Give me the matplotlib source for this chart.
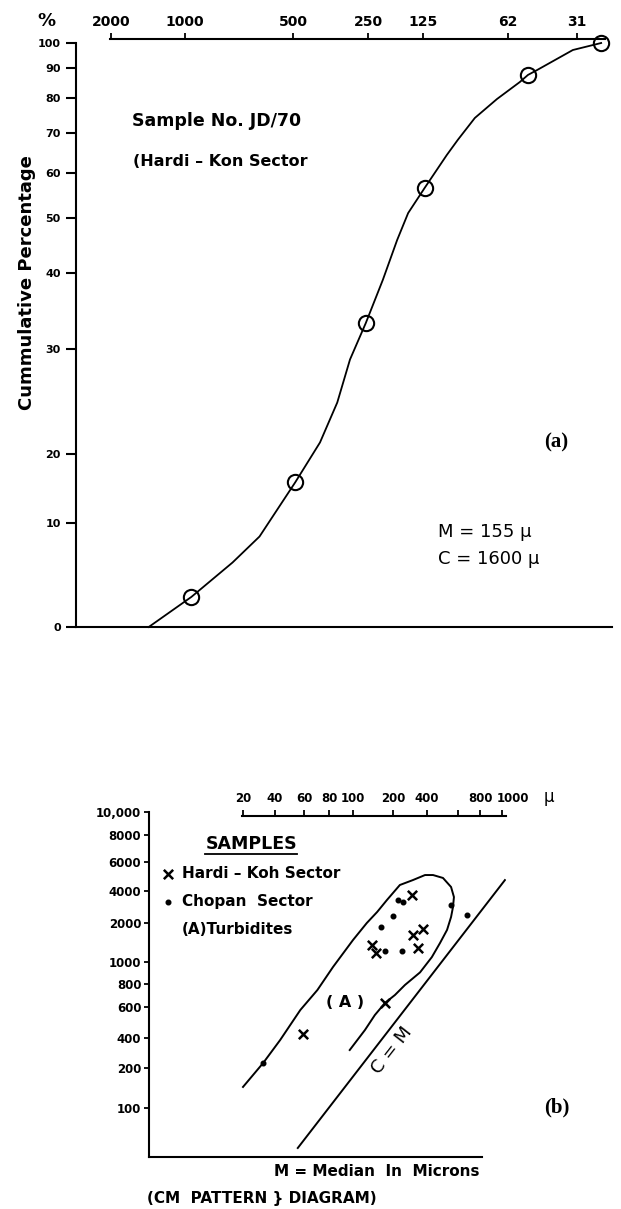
import numpy as np
import matplotlib
matplotlib.use("Agg")
import matplotlib.pyplot as plt
from matplotlib.lines import Line2D
from matplotlib.transforms import IdentityTransform

W, H = 621, 1209

# ---------------- panel (a): cumulative curve, sample JD/70 ----------------
phi_ticks = [-1, 0, 1, 2, 3, 4, 5]
size_labels = ["2000", "1000", "500", "250", "125", "62", "31"]
pct_ticks = [0, 10, 20, 30, 40, 50, 60, 70, 80, 90, 100]

sample_phi = [0.06, 1.03, 1.97, 3.02, 4.29, 5.35]
sample_pct = [2.9, 15.9, 33.4, 56.7, 87.7, 100.0]

# hand drawn curve
curve_phi = [-0.49, 0.06, 0.44, 0.69, 1.03, 1.36, 1.59, 1.76, 1.97, 2.27, 2.53,
             2.73, 3.02, 3.28, 3.41, 3.61, 3.87, 4.17, 4.29, 4.42, 4.94, 5.35]
curve_pct = [0.0, 2.9, 6.2, 8.7, 15.9, 21.1, 24.9, 29.0, 33.4, 39.1, 46.0,
             51.1, 56.7, 64.5, 68.3, 74.3, 79.7, 85.3, 87.7, 89.3, 97.2, 100.0]

# ---------------- panel (b): CM pattern ----------------
m_ticks = [20, 40, 60, 80, 100, 200, 400, 600, 800, 1000]
m_labels = ["20", "40", "60", "80", "100", "200", "400", "", "800", ""]
m_last = "1000"   # lettered to the right of its tick on the sheet
c_ticks = [100, 200, 400, 600, 800, 1000, 2000, 4000, 6000, 8000, 10000]
c_labels = ["100", "200", "400", "600", "800", "1000", "2000", "4000",
            "6000", "8000", "10,000"]

hardi_m = [59, 139, 149, 174, 301, 369, 333, 295]
hardi_c = [421, 1353, 1174, 631, 1616, 1798, 1282, 3668]
chopan_m = [31, 200, 162, 174, 240, 675, 548, 221, 245]
chopan_c = [225, 2328, 1862, 1216, 1216, 2378, 2953, 3292, 3152]

envelope_m = [20, 31, 43, 57, 70, 83, 100, 127, 152, 180, 230, 300, 384, 433,
              493, 548, 569, 562, 548, 520, 474, 426, 347, 255, 208, 174, 146,
              123, 97]
envelope_c = [144, 225, 382, 577, 742, 950, 1478, 2000, 2540, 3290, 4350, 4660,
              5000, 5000, 4800, 4230, 3510, 2830, 2280, 1770, 1400, 1090, 900,
              790, 697, 631, 540, 444, 303]

cm_m = [55, 1030]
cm_c = [50, 4660]

# where the hand ruled ticks sit on the sheet (px), used to build the scales
phi_px = [111, 185, 293, 368, 423, 508, 577]
pct_px = [627, 523, 454, 349, 273, 218, 173, 133, 98, 68, 43]
m_px = [243, 275, 304, 329, 353, 393, 427, 458, 480, 502]
c_px = [1108, 1068, 1038, 1007, 984, 962, 923, 891, 862, 835, 812]


def extrap(x, xp, fp):
    x = np.asarray(x, float)
    xp = np.asarray(xp, float)
    fp = np.asarray(fp, float)
    y = np.interp(x, xp, fp)
    y = np.where(x < xp[0], fp[0] + (x - xp[0]) * (fp[1] - fp[0]) / (xp[1] - xp[0]), y)
    y = np.where(x > xp[-1], fp[-1] + (x - xp[-1]) * (fp[-1] - fp[-2]) / (xp[-1] - xp[-2]), y)
    return y


def paper_scale(vals, px, log=False, flip=False):
    v = np.log10(vals) if log else np.asarray(vals, float)
    p = -np.asarray(px, float) if flip else np.asarray(px, float)

    def fwd(x):
        x = np.asarray(x, float)
        if log:
            x = np.log10(np.clip(x, 1e-6, None))
        return extrap(x, v, p)

    def inv(y):
        r = extrap(y, p, v)
        return 10 ** r if log else r
    return fwd, inv


def box(left, top, right, bottom):
    return [left / W, 1 - bottom / H, (right - left) / W, (bottom - top) / H]


def px(x, y):
    return x / W, 1 - y / H


plt.rcParams['font.family'] = ['DejaVu Sans']
plt.rcParams['font.weight'] = 'bold'
plt.rcParams['axes.labelweight'] = 'bold'
plt.rcParams['axes.linewidth'] = 1.5

fig = plt.figure(figsize=(W / 100, H / 100), dpi=100)

# ---- (a) ----
ax = fig.add_axes(box(76, 39, 612, 627))
fx, ix = paper_scale(phi_ticks, phi_px)
fy, iy = paper_scale(pct_ticks, pct_px, flip=True)
ax.set_xscale('function', functions=(fx, ix))
ax.set_yscale('function', functions=(fy, iy))
ax.set_xlim(float(ix(76)), float(ix(612)))
ax.set_ylim(float(iy(-627)), float(iy(-39)))

ax.plot(curve_phi, curve_pct, color='k', lw=1.3, clip_on=False)
ax.plot(sample_phi, sample_pct, 'o', mfc='none', mec='k', ms=11, mew=1.5,
        clip_on=False)

ax.set_xticks(phi_ticks, size_labels)
ax.set_yticks(pct_ticks, [str(p) for p in pct_ticks])
ax.tick_params(axis='x', top=True, labeltop=True, bottom=False,
               labelbottom=False, length=4.5, width=1.3, pad=3, labelsize=10)
ax.tick_params(axis='y', length=7, width=1.5, pad=4, labelsize=8)
ax.spines['right'].set_visible(False)
ax.spines['left'].set_bounds(0, 100)
ax.spines['top'].set_bounds(float(ix(110)), float(ix(605)))

ax.set_ylabel("Cummulative Percentage", fontsize=13)
ax.yaxis.set_label_coords((27 - 76) / 536, (627 - 283) / 588)
ax.yaxis.label.set_va('center')

fig.text(*px(46, 21), "%", fontsize=13, ha='center', va='center')
fig.text(*px(132, 121), "Sample No. JD/70", fontsize=12.5, va='center')
fig.text(*px(133, 161), "(Hardi \u2013 Kon Sector", fontsize=11.5, va='center')
fig.text(*px(438, 532), "M = 155 \u00b5", fontsize=13, weight='normal', va='center')
fig.text(*px(438, 559), "C = 1600 \u00b5", fontsize=13, weight='normal', va='center')
fig.text(*px(556, 442), "(a)", fontsize=15, family='Liberation Serif',
         ha='center', va='center')

# ---- (b) ----
bx = fig.add_axes(box(149, 812, 506, 1157))
gx, jx = paper_scale(m_ticks, m_px, log=True)
gy, jy = paper_scale(c_ticks, c_px, log=True, flip=True)
bx.set_xscale('function', functions=(gx, jx))
bx.set_yscale('function', functions=(gy, jy))
bx.set_xlim(float(jx(149)), float(jx(506)))
bx.set_ylim(float(jy(-1157)), float(jy(-812)))

bx.plot(envelope_m, envelope_c, color='k', lw=1.4)
bx.plot(cm_m, cm_c, color='k', lw=1.4)
hk = bx.scatter(hardi_m, hardi_c, marker='x', s=45, color='k', linewidths=1.8,
                label="Hardi \u2013 Koh Sector")
ch = bx.scatter(chopan_m, chopan_c, marker='o', s=11, color='k',
                label="Chopan  Sector")
turb = Line2D([], [], linestyle='none', label="(A)Turbidites")

bx.text(93, 638, "( A )", fontsize=11.5, ha='center', va='center')
bx.text(197, 303, "C = M", fontsize=13, weight='normal', rotation=52,
        rotation_mode='anchor', ha='center', va='center')

top_pos = 1 - 4 / 345
bx.set_xticks(m_ticks, m_labels)
bx.set_yticks(c_ticks, c_labels)
bx.tick_params(axis='x', top=True, labeltop=True, bottom=False,
               labelbottom=False, length=4, width=1.3, pad=4, labelsize=8.5)
bx.tick_params(axis='y', length=3.5, width=1.3, pad=2, labelsize=8.5)
bx.annotate(m_last, xy=(m_ticks[-1], top_pos),
            xycoords=('data', 'axes fraction'), xytext=(-3.5, 8),
            textcoords='offset points', ha='left', va='bottom', fontsize=8.5)
bx.spines['right'].set_visible(False)
bx.spines['top'].set_position(('axes', top_pos))
bx.spines['top'].set_bounds(float(jx(242)), float(jx(506)))
bx.spines['bottom'].set_bounds(float(jx(149)), float(jx(482)))

bx.set_xlabel("M = Median  In  Microns", fontsize=11)
bx.xaxis.set_label_coords((377 - 149) / 357, (1157 - 1172) / 345)
bx.xaxis.label.set_va('center')

leg = bx.legend(handles=[hk, ch, turb], loc='upper left',
                bbox_to_anchor=((162 - 149) / 357, (1157 - 835) / 345),
                frameon=False, title="SAMPLES",
                title_fontproperties={'weight': 'bold', 'size': 12.5},
                prop={'weight': 'bold', 'size': 11}, handlelength=0.8,
                handletextpad=0.5, labelspacing=0.85, borderpad=0,
                borderaxespad=0)

fig.text(*px(549, 797), "\u00b5", fontsize=12, weight='normal', ha='center', va='center')
fig.text(*px(147, 1198), "(CM  PATTERN } DIAGRAM)", fontsize=11, va='center')
fig.text(*px(557, 1107), "(b)", fontsize=15, family='Liberation Serif',
         ha='center', va='center')

# underline the legend title
fig.canvas.draw()
bb = leg.get_title().get_window_extent()
fig.add_artist(Line2D([bb.x0, bb.x1], [bb.y0 - 1, bb.y0 - 1],
                      transform=IdentityTransform(), color='k', lw=1.3))

fig.savefig("out.png", dpi=100)
